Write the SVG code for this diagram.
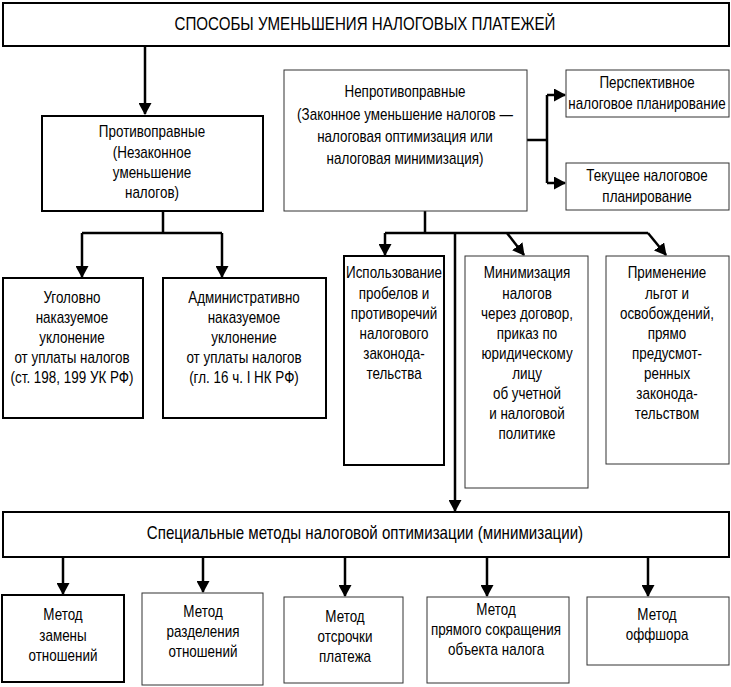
<svg xmlns="http://www.w3.org/2000/svg" width="731" height="687" viewBox="0 0 731 687">
<defs>
<marker id="ahs" markerWidth="12" markerHeight="13" refX="11" refY="6.5" orient="auto" markerUnits="userSpaceOnUse" viewBox="0 0 12 13">
<path d="M0,0 L12,6.5 L0,13 z" fill="#000"/>
</marker>
</defs>
<style>
rect{fill:#fff;stroke:#000}
.thick{stroke-width:2}
.thin{stroke-width:1;stroke:#333}
text{font-family:"Liberation Sans",Arial,sans-serif;font-size:16px;fill:#000;text-anchor:middle;dominant-baseline:central;transform-box:fill-box;transform-origin:center;transform:scaleX(0.84)}
.big{font-size:18px}
.c{fill:none;stroke:#000;stroke-width:2.5}
.ca{fill:none;stroke:#000;stroke-width:2.5;marker-end:url(#ahs)}
</style>
<rect width="731" height="687" style="fill:#fff;stroke:none"/>
<g id="connectors">
<path class="ca" d="M145,46 V114"/>
<path class="c" d="M163,212 V233 M82,233 H222"/>
<path class="ca" d="M82,233 V277"/>
<path class="ca" d="M222,233 V277"/>
<path class="c" d="M527,140 H547 M547,95 V183"/>
<path class="ca" d="M547,95 H565"/>
<path class="ca" d="M547,183 H565"/>
<path class="c" d="M425,210 V233 M385,233 H648"/>
<path class="ca" d="M385,233 V255"/>
<path class="ca" d="M507,233 L524,255"/>
<path class="ca" d="M648,233 L666,255"/>
<path class="ca" d="M455,233 V511"/>
<path class="ca" d="M63,557 V594"/>
<path class="ca" d="M203,557 V592"/>
<path class="ca" d="M345,557 V596"/>
<path class="ca" d="M487,557 V596"/>
<path class="ca" d="M648,557 V596"/>
</g>
<g id="n-title">
<rect class="thick" x="3" y="3" width="726" height="43"/>
<text class="big" x="365" y="24">СПОСОБЫ УМЕНЬШЕНИЯ НАЛОГОВЫХ ПЛАТЕЖЕЙ</text>
</g>
<g id="n-illegal">
<rect class="thick" x="42" y="116" width="221" height="95"/>
<text x="152" y="132">Противоправные</text>
<text x="152" y="153">(Незаконное</text>
<text x="152" y="173">уменьшение</text>
<text x="152" y="193">налогов)</text>
</g>
<g id="n-legal">
<rect class="thin" x="284" y="70" width="243" height="141"/>
<text x="405" y="92">Непротивоправные</text>
<text x="405" y="115">(Законное уменьшение налогов —</text>
<text x="405" y="137">налоговая оптимизация или</text>
<text x="405" y="159">налоговая минимизация)</text>
</g>
<g id="n-persp">
<rect class="thin" x="566" y="70" width="163" height="47"/>
<text x="647" y="83">Перспективное</text>
<text x="647" y="104">налоговое планирование</text>
</g>
<g id="n-current">
<rect class="thin" x="566" y="163" width="163" height="47"/>
<text x="647" y="176">Текущее налоговое</text>
<text x="647" y="197">планирование</text>
</g>
<g id="n-criminal">
<rect class="thick" x="3" y="278" width="140" height="140"/>
<text x="72" y="298">Уголовно</text>
<text x="72" y="318">наказуемое</text>
<text x="72" y="338">уклонение</text>
<text x="72" y="358">от уплаты налогов</text>
<text x="72" y="378">(ст. 198, 199 УК РФ)</text>
</g>
<g id="n-admin">
<rect class="thick" x="163" y="278" width="163" height="140"/>
<text x="244" y="298">Административно</text>
<text x="244" y="318">наказуемое</text>
<text x="244" y="338">уклонение</text>
<text x="244" y="358">от уплаты налогов</text>
<text x="244" y="378">(гл. 16 ч. I НК РФ)</text>
</g>
<g id="n-gaps">
<rect class="thick" x="344" y="256" width="100" height="209"/>
<text x="394" y="273">Использование</text>
<text x="394" y="294">пробелов и</text>
<text x="394" y="314">противоречий</text>
<text x="394" y="334">налогового</text>
<text x="394" y="354">законода-</text>
<text x="394" y="374">тельства</text>
</g>
<g id="n-contract">
<rect class="thin" x="465" y="256" width="123" height="232"/>
<text x="527" y="273">Минимизация</text>
<text x="527" y="294">налогов</text>
<text x="527" y="314">через договор,</text>
<text x="527" y="334">приказ по</text>
<text x="527" y="354">юридическому</text>
<text x="527" y="374">лицу</text>
<text x="527" y="394">об учетной</text>
<text x="527" y="414">и налоговой</text>
<text x="527" y="434">политике</text>
</g>
<g id="n-benefits">
<rect class="thin" x="606" y="256" width="123" height="208"/>
<text x="667" y="273">Применение</text>
<text x="667" y="294">льгот и</text>
<text x="667" y="314">освобождений,</text>
<text x="667" y="334">прямо</text>
<text x="667" y="354">предусмот-</text>
<text x="667" y="374">ренных</text>
<text x="667" y="394">законода-</text>
<text x="667" y="414">тельством</text>
</g>
<g id="n-special">
<rect class="thick" x="3" y="512" width="726" height="45"/>
<text class="big" x="365" y="533">Специальные методы налоговой оптимизации (минимизации)</text>
</g>
<g id="n-m1">
<rect class="thick" x="2" y="595" width="122" height="87"/>
<text x="63" y="615">Метод</text>
<text x="63" y="636">замены</text>
<text x="63" y="656">отношений</text>
</g>
<g id="n-m2">
<rect class="thin" x="142" y="593" width="121" height="92"/>
<text x="203" y="612">Метод</text>
<text x="203" y="632">разделения</text>
<text x="203" y="652">отношений</text>
</g>
<g id="n-m3">
<rect class="thin" x="284" y="597" width="119" height="86"/>
<text x="345" y="617">Метод</text>
<text x="345" y="637">отсрочки</text>
<text x="345" y="657">платежа</text>
</g>
<g id="n-m4">
<rect class="thin" x="427" y="597" width="142" height="86"/>
<text x="496" y="610">Метод</text>
<text x="496" y="630">прямого сокращения</text>
<text x="496" y="650">объекта налога</text>
</g>
<g id="n-m5">
<rect class="thin" x="587" y="597" width="142" height="68"/>
<text x="657" y="615">Метод</text>
<text x="657" y="635">оффшора</text>
</g>
</svg>
